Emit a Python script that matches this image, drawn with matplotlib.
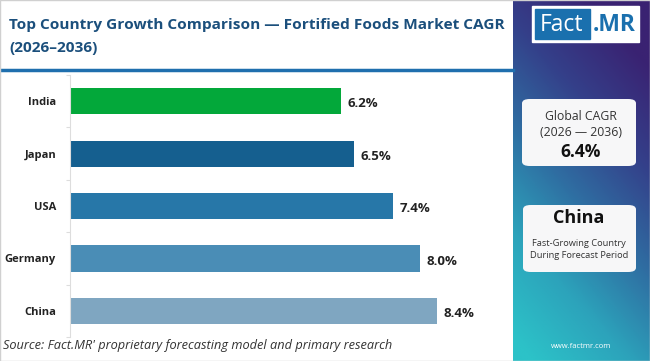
import matplotlib.pyplot as plt
import numpy as np
from matplotlib.patches import FancyBboxPatch, Rectangle
from matplotlib.colors import LinearSegmentedColormap

countries = ["India", "Japan", "USA", "Germany", "China"]
cagr = [6.2, 6.5, 7.4, 8.0, 8.4]
bar_colors = ["#03a83a", "#155f8f", "#2777a8", "#4a8db6", "#7fa6c1"]
global_cagr = "6.4%"
top_country = "China"

W, H = 650, 361
fig = plt.figure(figsize=(W / 100, H / 100), dpi=100)
fig.patch.set_facecolor("white")

def fx(px):
    return px / W

def fy(py):
    return 1 - py / H

# sidebar gradient
side = fig.add_axes([fx(513), 0, 1 - fx(513), 1])
side.set_axis_off()
ny, nx = 200, 80
yy, xx = np.mgrid[0:1:ny * 1j, 0:1:nx * 1j]
s = np.clip(0.85 * yy + 0.35 * (1 - xx) - 0.15, 0, 1)
cmap = LinearSegmentedColormap.from_list(
    "side", ["#3a2272", "#34408a", "#2f6ea2", "#2ca3bb", "#2cc2c8"])
side.imshow(cmap(s), aspect="auto", extent=[0, 1, 1, 0])
side.set_xlim(0, 1)
side.set_ylim(1, 0)

# logo
fig.patches.append(Rectangle((fx(532), fy(42)), fx(639) - fx(532), fy(6) - fy(42),
                             transform=fig.transFigure, color="white", zorder=2))
fig.patches.append(Rectangle((fx(535), fy(39)), fx(590) - fx(535), fy(9) - fy(39),
                             transform=fig.transFigure, color="#1a70ae", zorder=3))
fig.text(fx(562), fy(25), "Fact", color="white", fontsize=16.5, ha="center", va="center",
         family="Open Sans", zorder=4)
fig.text(fx(614), fy(25), ".MR", color="#1a70ae", fontsize=16.5, ha="center", va="center",
         family="Open Sans", weight="bold", zorder=4)

# info boxes
for (x0, y0, x1, y1) in [(522, 99, 636, 166), (523, 205, 636, 272)]:
    fig.patches.append(FancyBboxPatch((fx(x0), fy(y1)), fx(x1) - fx(x0), fy(y0) - fy(y1),
                                      boxstyle="round,pad=0,rounding_size=0.012",
                                      transform=fig.transFigure, facecolor="#f7f7f8",
                                      edgecolor="none", zorder=2))
fig.text(fx(581), fy(117), "Global CAGR", fontsize=8.8, color="#333333", ha="center",
         va="center", family="Open Sans")
fig.text(fx(581), fy(133), "(2026 \u2014 2036)", fontsize=8.8, color="#333333", ha="center",
         va="center", family="Open Sans")
fig.text(fx(581), fy(152), global_cagr, fontsize=12.5, color="#111111", ha="center",
         va="center", weight="bold", family="Open Sans")
fig.text(fx(579), fy(218), top_country, fontsize=13, color="#111111", ha="center",
         va="center", weight="bold", family="Open Sans")
fig.text(fx(579), fy(243), "Fast-Growing Country", fontsize=6.7, color="#333333",
         ha="center", va="center", family="Open Sans")
fig.text(fx(579), fy(256), "During Forecast Period", fontsize=6.7, color="#333333",
         ha="center", va="center", family="Open Sans")
fig.text(fx(581), fy(346), "www.factmr.com", fontsize=5.5, color="white", ha="center",
         va="center", family="Open Sans")

# title
fig.text(fx(9), fy(25), "Top Country Growth Comparison \u2014 Fortified Foods Market CAGR",
         fontsize=11.1, weight="bold", color="#1b4f7c", ha="left", va="center",
         family="Open Sans")
fig.text(fx(9), fy(48), "(2026\u20132036)", fontsize=11.1, weight="bold", color="#1b4f7c",
         ha="left", va="center", family="Open Sans")
fig.lines.append(plt.Line2D([0, fx(513)], [fy(70), fy(70)], transform=fig.transFigure,
                            color="#1f6fae", lw=2.5))

# bar chart
ax = fig.add_axes([fx(70), fy(337), fx(505) - fx(70), fy(75) - fy(337)])
y = np.arange(len(countries))
ax.barh(y, cagr, height=0.5, color=bar_colors)
ax.set_ylim(len(countries) - 0.5, -0.5)
ax.set_xlim(0, 435 / 43.7)
ax.set_yticks(y)
ax.set_yticklabels(countries, fontsize=8, weight="bold", color="#222222",
                   family="Open Sans")
ax.set_yticks(np.arange(-0.5, len(countries)), minor=True)
ax.tick_params(axis="y", which="major", length=0, pad=10)
ax.tick_params(axis="y", which="minor", length=3, color="#dddddd", width=0.8)
ax.set_xticks([])
for sp in ["top", "right", "bottom"]:
    ax.spines[sp].set_visible(False)
ax.spines["left"].set_color("#dddddd")
ax.spines["left"].set_linewidth(0.8)
for yi, v in zip(y, cagr):
    ax.text(v + 0.15, yi + 0.05, f"{v:.1f}%", va="center", ha="left", fontsize=9.5,
            weight="bold", color="#222222", family="Open Sans")

# source
fig.text(fx(3), fy(345), "Source: Fact.MR' proprietary forecasting model and primary research",
         fontsize=9.2, style="italic", color="#333333", ha="left", va="center",
         family="Open Sans")

# border
fig.patches.append(Rectangle((0, 0), 1, 1, transform=fig.transFigure, fill=False,
                             edgecolor="#d0d0d0", lw=1, zorder=10))

fig.savefig("out.png", dpi=100)
